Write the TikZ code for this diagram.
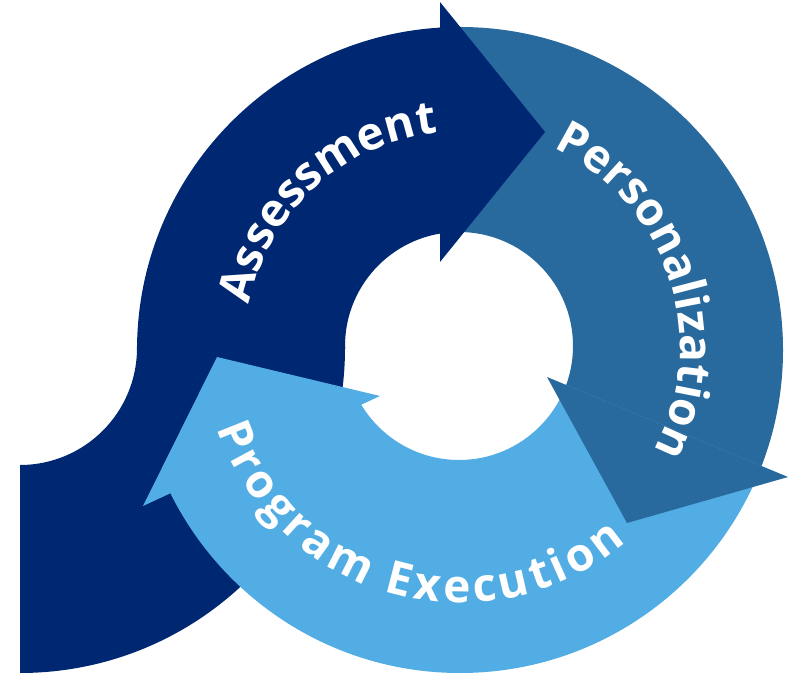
\documentclass[tikz,border=0pt]{standalone}
\usepackage{fontspec}
\setmainfont{Open Sans}
\usetikzlibrary{decorations.text}
\definecolor{cDark}{HTML}{002872}
\definecolor{cMid}{HTML}{28699E}
\definecolor{cLight}{HTML}{52ADE4}
\newcommand\lblfont{\bfseries\fontsize{46pt}{50pt}\selectfont}
\newlength\chw
\newlength\acclen
% angles of letters along a counter-clockwise arc (computed before the picture)
% #1 prefix, #2 baseline radius, #3 middle angle, #4 tracking, #5 characters
\newcommand\ccwprep[5]{%
  \global\acclen=0pt
  \foreach \ch in {#5} {%
    \settowidth\chw{\lblfont\ch}%
    \global\advance\acclen by \chw
    \global\advance\acclen by #4\relax
  }%
  \global\advance\acclen by -#4\relax
  \pgfmathsetmacro\startang{#3 - deg(\acclen/(2*#2))}%
  \global\acclen=0pt
  \foreach \ch [count=\i] in {#5} {%
    \settowidth\chw{\lblfont\ch}%
    \pgfmathsetmacro\ang{\startang + deg((\acclen + 0.5*\chw)/#2)}%
    \expandafter\xdef\csname #1ang\i\endcsname{\ang}%
    \global\advance\acclen by \chw
    \global\advance\acclen by #4\relax
  }%
}
\begin{document}
\ccwprep{pe}{256}{254.5}{4pt}{P,r,o,g,r,a,m,\ ,E,x,e,c,u,t,i,o,n}%
\begin{tikzpicture}[x=1pt,y=1pt,
  lbl/.style={decorate, decoration={text along path, text color=white, text align=center}},
  lettr/.style={anchor=base, inner sep=0pt, outer sep=0pt, text=white},
  ringfill/.style={even odd rule}]
\useasboundingbox (0,0) rectangle (791,687);
% shapes in image coordinates (y downwards)
\begin{scope}[shift={(0,687)}, yscale=-1]
  % Personalization body
  \begin{scope}
    \clip (439,-20) -- (820,-20) -- (819.4,491.7) -- (439.4,334) -- cycle;
    \fill[cMid, ringfill] (460,350) circle (323) (459,346) circle (114);
  \end{scope}
  % Assessment body (ring part)
  \begin{scope}
    \clip (-10,-20) rectangle (441.5,349);
    \fill[cDark, ringfill] (460,350) circle (323) (459,346) circle (114);
  \end{scope}
  % Assessment tail
  \begin{scope}
    \clip (20,347) rectangle (400,700);
    \fill[cDark, ringfill] (20,348) circle (325) (20,348) circle (117);
  \end{scope}
  % Assessment head
  \fill[cDark] (440,2) -- (545,132) -- (440,262) -- cycle;
  % Program Execution body
  \begin{scope}
    \clip (419.4,376) -- (500,357.5) -- (820,490.3) -- (820,700) -- (79.4,700) -- (79.4,533.8) -- cycle;
    \fill[cLight, ringfill] (460,350) circle (323) (459,346) circle (114);
  \end{scope}
  % Program Execution head
  \fill[cLight] (380,396) -- (217,357) -- (143,506) -- cycle;
  % Personalization head
  \fill[cMid] (547,377) -- (627,523) -- (788,477) -- cycle;
\end{scope}
% labels (y upwards, centre at (460,340))
\coordinate (ctr) at (460,340);
\path[lbl, decoration={text={|\lblfont|Assessment}}]
  (ctr) ++(182.3:215) arc[start angle=182.3, end angle=82.3, radius=215];
\path[lbl, decoration={text={|\lblfont|Personalization}}]
  (ctr) ++(78.4:220) arc[start angle=78.4, end angle=-41.6, radius=220];
\foreach \ch [count=\i] in {P,r,o,g,r,a,m,\ ,E,x,e,c,u,t,i,o,n} {
  \pgfmathsetmacro\ang{\csname peang\i\endcsname}
  \path (ctr) ++(\ang:256) node[name=pe\i, lettr, rotate=\ang+90] {\lblfont\ch};
}
\end{tikzpicture}
\end{document}
